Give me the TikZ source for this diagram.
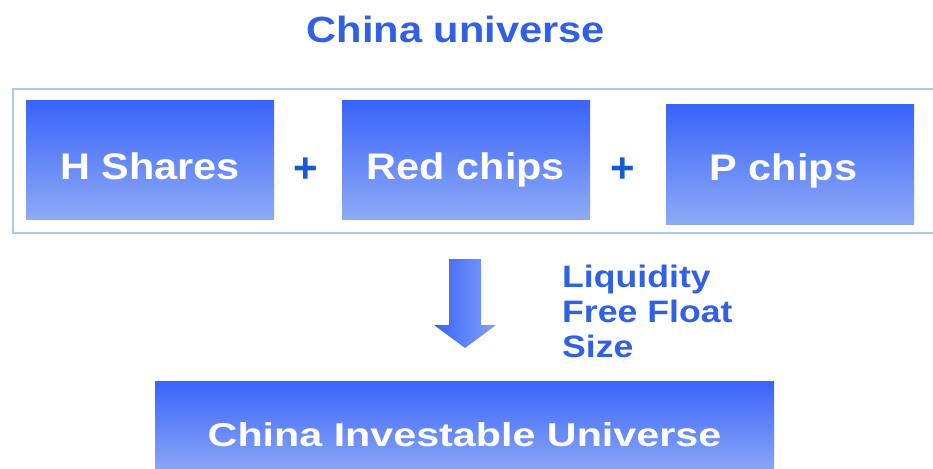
\documentclass[tikz,border=0pt]{standalone}
\usepackage{fontspec}
\setmainfont{Liberation Sans}
\usepackage{graphicx}
\definecolor{boxtop}{RGB}{58,100,250}
\definecolor{boxbot}{RGB}{142,170,245}
\definecolor{titleblue}{RGB}{50,96,228}
\definecolor{plusblue}{RGB}{22,90,214}
\definecolor{framecol}{RGB}{168,204,230}
\definecolor{arrL}{RGB}{58,98,245}
\definecolor{arrR}{RGB}{130,162,250}
\begin{document}
\begin{tikzpicture}[x=1pt,y=-1pt,
  blk/.style={draw=none, top color=boxtop, bottom color=boxbot, text=white,
    font=\bfseries\fontsize{37}{40}\selectfont, inner sep=0pt, text depth=0pt},
  plussign/.style={text=plusblue, font=\bfseries\fontsize{42}{44}\selectfont, inner sep=0pt},
  bluetext/.style={text=titleblue, font=\bfseries\fontsize{31}{35}\selectfont, inner sep=0pt}]
\useasboundingbox (0,0) rectangle (933,468);
\clip (0,0) rectangle (933,468);
\fill[white] (0,0) rectangle (933,468);
% title
\node[text=titleblue, font=\bfseries\fontsize{36.5}{40}\selectfont, inner sep=0pt, anchor=base] (title) at (456,43) {\scalebox{1.14}[1]{China universe}};
% frame
\node[draw=framecol, line width=2.5pt, minimum width=932pt, minimum height=144pt, inner sep=0pt] (frame) at (479,161) {};
% boxes
\node[blk, minimum width=248pt, minimum height=118pt, text height=38pt] (hsh) at (150,160) {\scalebox{1.12}[1]{H Shares}};
\node[plussign] (plus1) at (306,170) {+};
\node[blk, minimum width=248pt, minimum height=118pt, text height=38pt] (red) at (466,160) {\scalebox{1.12}[1]{Red chips}};
\node[plussign] (plus2) at (623,170) {+};
\node[blk, minimum width=248pt, minimum height=119pt, text height=31pt] (pch) at (790,164.5) {\hspace*{-13pt}\scalebox{1.12}[1]{P chips}};
% arrow
\shade[left color=arrL, right color=arrR] (449,259) -- (481,259) -- (481,325) -- (496,325) -- (465,348) -- (434,325) -- (449,325) -- cycle;
% criteria
\node[bluetext, align=left, anchor=north west] (crit) at (562,264.5) {\scalebox{1.15}[1]{Liquidity}\\\scalebox{1.15}[1]{Free Float}\\\scalebox{1.15}[1]{Size}};
% result
\node[blk, font=\bfseries\fontsize{33}{36}\selectfont, minimum width=619pt, minimum height=94pt, text height=36pt] (inv) at (464.5,428) {\scalebox{1.25}[1]{China Investable Universe}};
\end{tikzpicture}
\end{document}
